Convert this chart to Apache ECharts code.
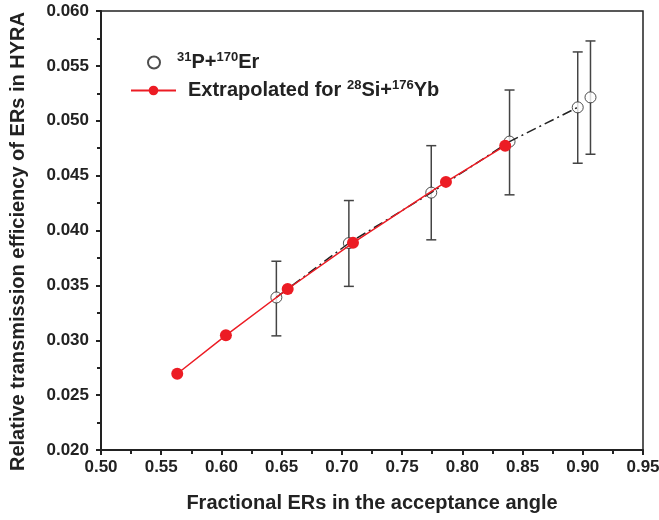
<!DOCTYPE html>
<html>
<head>
<meta charset="utf-8">
<script src="https://cdn.jsdelivr.net/npm/echarts@6/dist/echarts.min.js"></script>
<style>
  html, body { margin: 0; padding: 0; background: #fff; }
  #chart { width: 659px; height: 520px; }
</style>
</head>
<body>
<div id="chart"></div>
<script>
// 31P+170Er measured points with error bars
var xMeas = [0.6456, 0.7058, 0.7742, 0.8392, 0.8958, 0.9064];
var yMeas = [0.0339, 0.03885, 0.04345, 0.0481, 0.05122, 0.05213];
var errLow = [0.0304, 0.03491, 0.03915, 0.04325, 0.04613, 0.04695];
var errHigh = [0.0372, 0.04273, 0.04773, 0.0528, 0.05627, 0.05727];
// extrapolated for 28Si+176Yb
var xExtra = [0.5633, 0.6037, 0.655, 0.7092, 0.7864, 0.8356];
var yExtra = [0.02695, 0.03045, 0.03467, 0.03888, 0.04443, 0.04773];

var myChart = echarts.init(document.getElementById('chart'));
var font = '"Liberation Sans", Arial, sans-serif';

var measData = xMeas.map(function (x, i) { return [x, yMeas[i]]; });
var fitData = measData.slice(0, 5);
var errData = xMeas.map(function (x, i) { return [x, errLow[i], errHigh[i]]; });
var extraData = xExtra.map(function (x, i) { return [x, yExtra[i]]; });

var legRich = {
    sup: { fontSize: 13, fontWeight: 'bold', fontFamily: font, padding: [0, 0, 10, 0] }
};

var option = {
    animation: false,
    grid: {
        left: 101, right: 16, top: 11, bottom: 70,
        outerBoundsMode: 'none',
        show: true, borderColor: '#222', borderWidth: 1.5
    },
    legend: [{
        data: ['P'],
        left: 142, top: 46,
        itemWidth: 12, itemHeight: 12,
        formatter: function () { return '{sup|31}P+{sup|170}Er'; },
        textStyle: { fontSize: 20, fontWeight: 'bold', fontFamily: font, color: '#222', padding: [0, 0, 0, 12], rich: legRich }
    }, {
        data: ['Extra'],
        left: 125, top: 74,
        itemWidth: 45, itemHeight: 12,
        formatter: function () { return 'Extrapolated for {sup|28}Si+{sup|176}Yb'; },
        textStyle: { fontSize: 20, fontWeight: 'bold', fontFamily: font, color: '#222', padding: [0, 0, 0, 7], rich: legRich }
    }],
    xAxis: {
        type: 'value',
        min: 0.5, max: 0.95, interval: 0.05,
        name: 'Fractional ERs in the acceptance angle',
        nameLocation: 'middle', nameGap: 43,
        nameTextStyle: { fontSize: 20, fontWeight: 'bold', fontFamily: font, color: '#222' },
        axisLine: { lineStyle: { color: '#222', width: 2 } },
        axisTick: { inside: false, length: 5, lineStyle: { color: '#222', width: 2 } },
        minorTick: { show: true, splitNumber: 2, length: 4, lineStyle: { color: '#222', width: 2 } },
        splitLine: { show: false },
        axisLabel: {
            fontSize: 17, fontWeight: 'bold', fontFamily: font, color: '#222', margin: 9,
            formatter: function (v) { return v.toFixed(2); }
        }
    },
    yAxis: {
        type: 'value',
        min: 0.02, max: 0.06, interval: 0.005,
        name: 'Relative transmission efficiency of ERs in HYRA',
        nameLocation: 'middle', nameGap: 73,
        nameTextStyle: { fontSize: 20, fontWeight: 'bold', fontFamily: font, color: '#222', padding: [0, 22, 0, 0] },
        axisLine: { lineStyle: { color: '#222', width: 2 } },
        axisTick: { inside: false, length: 5, lineStyle: { color: '#222', width: 2 } },
        minorTick: { show: true, splitNumber: 2, length: 4, lineStyle: { color: '#222', width: 2 } },
        splitLine: { show: false },
        axisLabel: {
            fontSize: 17, fontWeight: 'bold', fontFamily: font, color: '#222', margin: 12,
            formatter: function (v) { return v.toFixed(3); }
        }
    },
    series: [{
        name: 'err',
        type: 'custom',
        z: 1,
        data: errData,
        renderItem: function (params, api) {
            var x = api.value(0);
            var lo = api.coord([x, api.value(1)]);
            var hi = api.coord([x, api.value(2)]);
            var st = { stroke: '#444', lineWidth: 1.5 };
            return {
                type: 'group',
                children: [
                    { type: 'line', shape: { x1: lo[0], y1: lo[1], x2: hi[0], y2: hi[1] }, style: st },
                    { type: 'line', shape: { x1: hi[0] - 5, y1: hi[1], x2: hi[0] + 5, y2: hi[1] }, style: st },
                    { type: 'line', shape: { x1: lo[0] - 5, y1: lo[1], x2: lo[0] + 5, y2: lo[1] }, style: st }
                ]
            };
        }
    }, {
        name: 'P',
        type: 'scatter',
        z: 2,
        data: measData,
        symbol: 'circle',
        symbolSize: 11,
        itemStyle: { color: '#fff', borderColor: '#222', borderWidth: 1 }
    }, {
        name: 'fit',
        type: 'line',
        z: 3,
        data: fitData,
        symbol: 'none',
        lineStyle: { color: '#222', width: 1.5, type: [10, 4, 2, 4] }
    }, {
        name: 'Extra',
        type: 'line',
        z: 4,
        data: extraData,
        symbol: 'circle',
        symbolSize: 12,
        itemStyle: { color: '#ec1c24' },
        lineStyle: { color: '#ec1c24', width: 1.5 }
    }]
};

myChart.setOption(option);
window.addEventListener('resize', function () { myChart.resize(); });
</script>
</body>
</html>
